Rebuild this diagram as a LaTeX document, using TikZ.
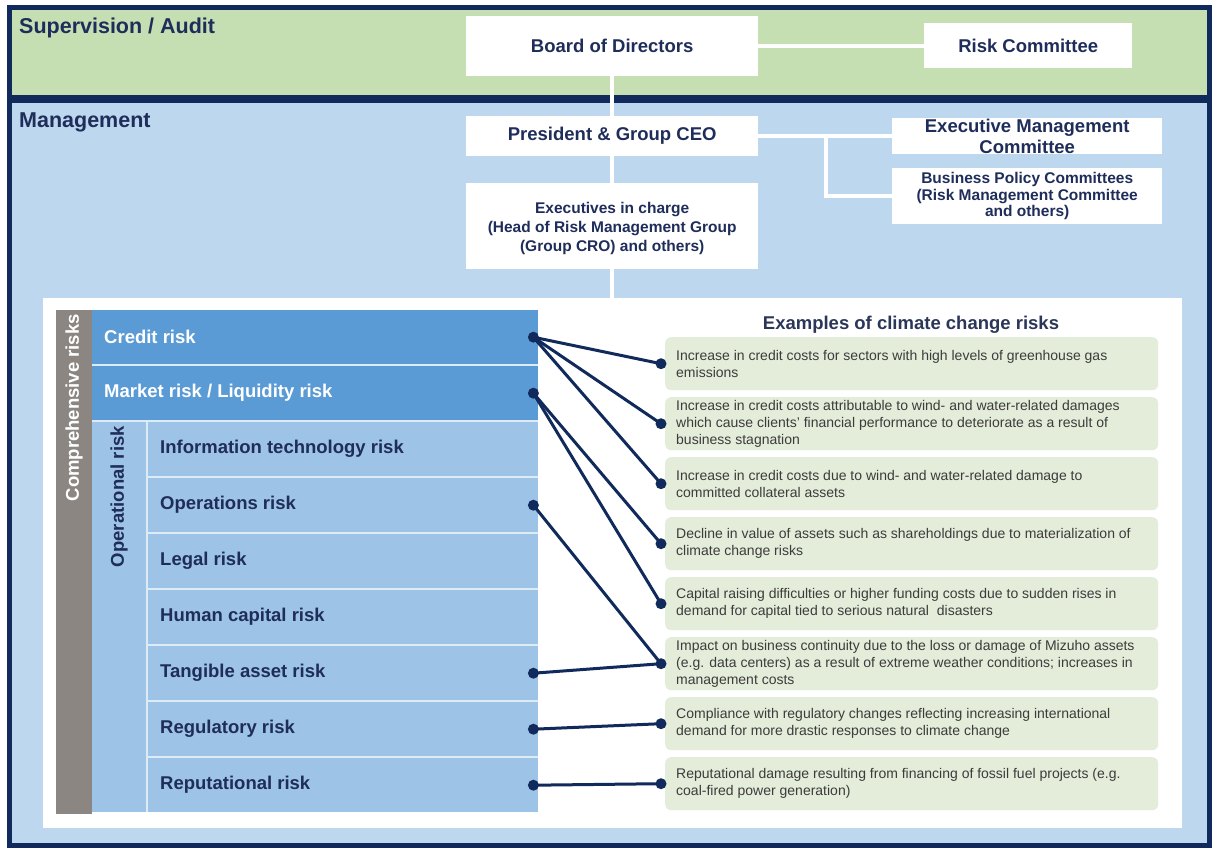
\documentclass[tikz,border=0pt]{standalone}
\usepackage{fontspec}
\setmainfont{Liberation Sans}
\definecolor{navy}{HTML}{102A5C}
\definecolor{textnavy}{HTML}{1F2D5A}
\definecolor{bandgreen}{HTML}{C5DFB3}
\definecolor{mgmtblue}{HTML}{BDD7EE}
\definecolor{darkrowc}{HTML}{5B9BD5}
\definecolor{lightrowc}{HTML}{9DC3E6}
\definecolor{graybar}{HTML}{8B8682}
\definecolor{exgreen}{HTML}{E3EDDA}
\definecolor{extext}{HTML}{3C3C3C}
\definecolor{titlecol}{HTML}{2B3658}
\definecolor{sepcol}{HTML}{DDEBF7}
\begin{document}
\begin{tikzpicture}[x=1pt,y=-1pt,
  every node/.style={font=\fontsize{18.5}{20}\selectfont\bfseries, text=textnavy, inner sep=0pt},
  wbox/.style={fill=white, anchor=north west},
  orgline/.style={white, line width=3.5pt},
  conn/.style={draw=navy, line width=3pt},
  dot/.style={circle, fill=navy, minimum size=11pt, inner sep=0pt},
  darkrow/.style={fill=darkrowc, anchor=north west, minimum width=446pt, minimum height=54pt},
  lightrow/.style={fill=lightrowc, anchor=north west, minimum width=390pt, minimum height=54pt},
  rowtext/.style={anchor=west},
  exbox/.style={fill=exgreen, rounded corners=6pt, anchor=north west, minimum width=493pt, minimum height=53pt},
  extxt/.style={anchor=west, align=left, font=\fontsize{14}{17.3}\selectfont, text=extext},
  heading/.style={anchor=base west, font=\fontsize{21.5}{24}\selectfont\bfseries},
]
\useasboundingbox (0,0) rectangle (1213,848);
% background bands
\fill[mgmtblue] (9,99) rectangle (1209,845);
\fill[bandgreen] (9,8) rectangle (1209,99);
\draw[navy, line width=8pt] (9,99) -- (1209,99);
\draw[navy, line width=5pt] (9,8) rectangle (1209,845);
\node[heading] (sup) at (19,34) {Supervision / Audit};
\node[heading] (mgmt) at (19,128) {Management};

% white panel
\node[fill=white, anchor=north west, minimum width=1139pt, minimum height=530pt] (panel) at (43,298) {};

% org boxes (empty shapes)
\node[wbox, minimum width=292pt, minimum height=60pt] (board) at (466,16) {};
\node[wbox, minimum width=208pt, minimum height=45pt] (riskc) at (924,23) {};
\node[wbox, minimum width=292pt, minimum height=40pt] (ceo) at (466,116) {};
\node[wbox, minimum width=292pt, minimum height=86pt] (exec) at (466,183) {};
\node[wbox, minimum width=270pt, minimum height=36pt] (emc) at (892,118) {};
\node[wbox, minimum width=270pt, minimum height=56pt] (bpc) at (892,168) {};
\coordinate (br) at (826,136);

% org connectors
\draw[orgline] (board.south) -- (panel.north -| board.south);
\draw[orgline] (board.east) -- (board.east -| riskc.west);
\draw[orgline] (ceo.east) -- (ceo.east -| emc.west);
\draw[orgline] (br) |- (bpc.west);
% redraw boxes over lines
\fill[white] (board.north west) rectangle (board.south east);
\fill[white] (ceo.north west) rectangle (ceo.south east);
\fill[white] (exec.north west) rectangle (exec.south east);

% org texts
\node at (board.center) {Board of Directors};
\node at (riskc.center) {Risk Committee};
\node at (ceo.center) {President \& Group CEO};
\node[align=center, font=\fontsize{15.5}{19}\selectfont\bfseries] at ([yshift=-2pt]exec.center) {Executives in charge\\(Head of Risk Management Group\\(Group CRO) and others)};
\node[align=center, font=\fontsize{18.5}{21}\selectfont\bfseries] at (emc.center) {Executive Management\\Committee};
\node[align=center, font=\fontsize{15.5}{16.5}\selectfont\bfseries] at (bpc.center) {Business Policy Committees\\(Risk Management Committee\\and others)};

% risk table
\fill[sepcol] (92,310) rectangle (538,812);
\node[fill=graybar, anchor=north west, minimum width=36pt, minimum height=504pt] (comp) at (56,310) {};
\node[rotate=90, anchor=east, text=white] (complbl) at (74,314) {Comprehensive risks};
\node[fill=lightrowc, anchor=north west, minimum width=54pt, minimum height=390pt] (opcol) at (92,422) {};
\node[rotate=90, anchor=east] (oplbl) at (119,426) {Operational risk};

\node[darkrow] (credit) at (92,310) {};
\node[darkrow] (market) at (92,366) {};
\node[lightrow] (it) at (148,422) {};
\node[lightrow] (ops) at (148,478) {};
\node[lightrow] (legal) at (148,534) {};
\node[lightrow] (human) at (148,590) {};
\node[lightrow] (tang) at (148,646) {};
\node[lightrow] (reg) at (148,702) {};
\node[lightrow] (rep) at (148,758) {};

\node[rowtext, text=white] at ([xshift=12pt]credit.west) {Credit risk};
\node[rowtext, text=white] at ([xshift=12pt]market.west) {Market risk / Liquidity risk};
\node[rowtext] at ([xshift=12pt]it.west) {Information technology risk};
\node[rowtext] at ([xshift=12pt]ops.west) {Operations risk};
\node[rowtext] at ([xshift=12pt]legal.west) {Legal risk};
\node[rowtext] at ([xshift=12pt]human.west) {Human capital risk};
\node[rowtext] at ([xshift=12pt]tang.west) {Tangible asset risk};
\node[rowtext] at ([xshift=12pt]reg.west) {Regulatory risk};
\node[rowtext] at ([xshift=12pt]rep.west) {Reputational risk};

% examples
\node[text=titlecol] (title) at (911,325) {Examples of climate change risks};
\node[exbox] (e1) at (665,337) {};
\node[exbox] (e2) at (665,397) {};
\node[exbox] (e3) at (665,457) {};
\node[exbox] (e4) at (665,517) {};
\node[exbox] (e5) at (665,577) {};
\node[exbox] (e6) at (665,637) {};
\node[exbox] (e7) at (665,697) {};
\node[exbox] (e8) at (665,757) {};

\node[extxt] at ([xshift=11pt]e1.west) {Increase in credit costs for sectors with high levels of greenhouse gas\\emissions};
\node[extxt] at ([xshift=11pt]e2.west) {Increase in credit costs attributable to wind- and water-related damages\\which cause clients’ financial performance to deteriorate as a result of\\business stagnation};
\node[extxt] at ([xshift=11pt]e3.west) {Increase in credit costs due to wind- and water-related damage to\\committed collateral assets};
\node[extxt] at ([xshift=11pt]e4.west) {Decline in value of assets such as shareholdings due to materialization of\\climate change risks};
\node[extxt] at ([xshift=11pt]e5.west) {Capital raising difficulties or higher funding costs due to sudden rises in\\demand for capital tied to serious natural\ \ disasters};
\node[extxt] at ([xshift=11pt]e6.west) {Impact on business continuity due to the loss or damage of Mizuho assets\\(e.g. data centers) as a result of extreme weather conditions; increases in\\management costs};
\node[extxt] at ([xshift=11pt]e7.west) {Compliance with regulatory changes reflecting increasing international\\demand for more drastic responses to climate change};
\node[extxt] at ([xshift=11pt]e8.west) {Reputational damage resulting from financing of fossil fuel projects (e.g.\\coal-fired power generation)};

% dots
\node[dot] (dcr) at ([xshift=-5pt]credit.east) {};
\node[dot] (dmk) at ([xshift=-5pt]market.east) {};
\node[dot] (dop) at ([xshift=-5pt]ops.east) {};
\node[dot] (dta) at ([xshift=-5pt]tang.east) {};
\node[dot] (drg) at ([xshift=-5pt]reg.east) {};
\node[dot] (drp) at ([xshift=-5pt]rep.east) {};
\foreach \i in {1,...,8} {\node[dot] (d\i) at ([xshift=-4pt]e\i.west) {};}

\foreach \a/\b in {dcr/d1, dcr/d2, dcr/d3, dmk/d4, dmk/d5, dop/d6, dta/d6, drg/d7, drp/d8}
  \draw[conn] (\a.center) -- (\b.center);
\end{tikzpicture}
\end{document}
